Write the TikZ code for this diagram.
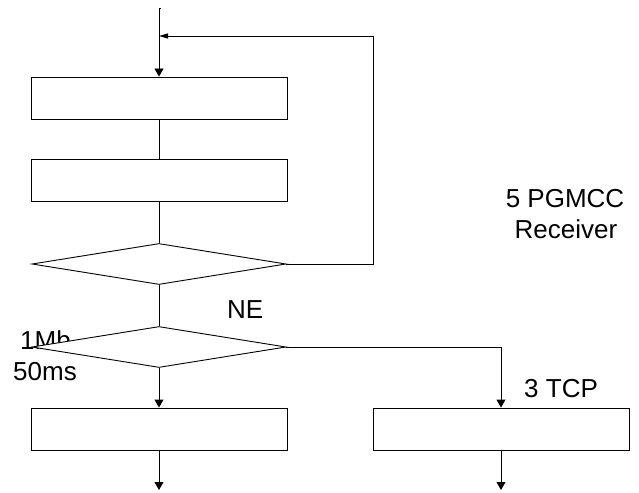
\documentclass[tikz,border=0pt]{standalone}
\usepackage{fontspec}
\setmainfont{Liberation Sans}
\usetikzlibrary{shapes.geometric,arrows.meta}
\begin{document}
\begin{tikzpicture}[x=1pt,y=-1pt,
  box/.style={draw,line width=0.9pt,fill=white,rectangle,minimum width=256pt,minimum height=42pt,inner sep=0pt},
  dia/.style={draw,line width=0.9pt,fill=white,diamond,minimum width=254pt,minimum height=41pt,inner sep=0pt},
  conn/.style={line width=0.9pt},
  tip/.style={-{Triangle[length=8pt,width=9pt]}},
  thintip/.style={-{Triangle[length=9pt,width=5pt]}},
  lbl/.style={font=\fontsize{26pt}{30pt}\selectfont,inner sep=0pt,anchor=base west}]
\useasboundingbox (0,0) rectangle (639,492);
% labels that are partly hidden behind shapes
\node[lbl] (l1) at (20,349) {1Mb};
\node[lbl] (l2) at (13,380) {50ms};
% shapes
\node[box] (b1) at (159,98) {};
\node[box] (b2) at (159,180.5) {};
\node[dia] (d1) at (159,264) {};
\node[dia] (d2) at (159,347) {};
\node[box] (b3) at (159,429) {};
\node[box] (b4) at (501,429) {};
% texts
\node[lbl] (ne) at (227,318) {NE};
\node[lbl,anchor=base] (pg1) at (565,207) {5 PGMCC};
\node[lbl,anchor=base] (pg2) at (566,238) {Receiver};
\node[lbl] (tcp) at (524,397) {3 TCP};
% connectors
\coordinate (top) at (159,8);
\coordinate (fb) at (373,36);
\coordinate (j) at (159,36);
\coordinate (e3) at (159,490);
\coordinate (e4) at (501,490);
\draw[conn] (top) -- ++(2,0);
\draw[conn,tip] (top) -- (b1.north);
\draw[conn] (b1.south) -- (b2.north);
\draw[conn] (b2.south) -- (d1.north);
\draw[conn,thintip] (d1.east) -| (fb) -- (j);
\draw[conn] (d1.south) -- (d2.north);
\draw[conn,tip] (d2.south) -- (b3.north);
\draw[conn,tip] (d2.east) -| (b4.north);
\draw[conn,tip] (b3.south) -- (e3);
\draw[conn,tip] (b4.south) -- (e4);
\end{tikzpicture}
\end{document}
